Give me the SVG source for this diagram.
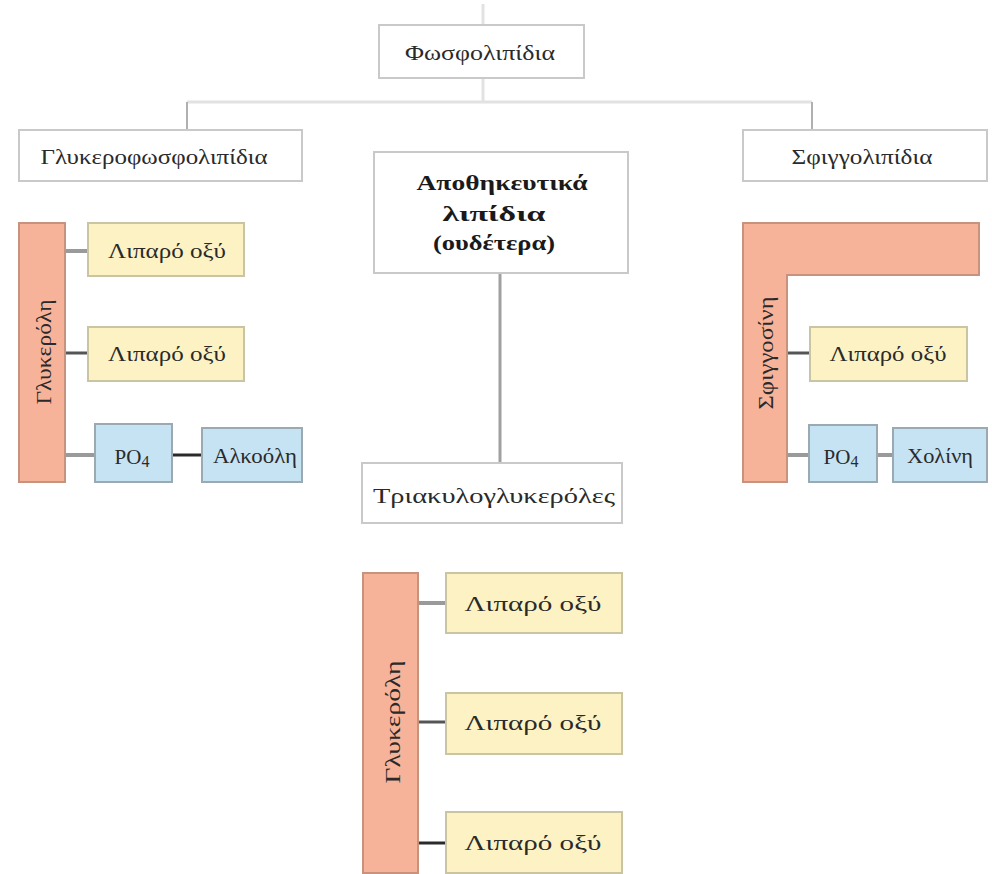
<svg xmlns="http://www.w3.org/2000/svg" width="992" height="874" viewBox="0 0 992 874">
<style>
text{font-family:"Liberation Serif","DejaVu Serif",serif;font-size:21px;fill:#2a2a2a;text-anchor:middle;dominant-baseline:central}
.b{font-weight:bold;font-size:21px;fill:#1a1a1a}
.w{fill:#fff;stroke:#c9c9c9;stroke-width:2}
.y{fill:#fcf2c4;stroke:#c9c4a2;stroke-width:2}
.u{fill:#c6e3f3;stroke:#9aa9b2;stroke-width:2}
.s{fill:#f7b39a;stroke:#c7937f;stroke-width:2}
.lt{stroke:#e2e2e2;stroke-width:3;fill:none}
.g{stroke:#9a9a9a;stroke-width:4;fill:none}
.d{stroke:#555;stroke-width:3;fill:none}
.k{stroke:#2a2a2a;stroke-width:3;fill:none}
</style>
<g id="connectors">
<line class="lt" x1="483" y1="4" x2="483" y2="25"/>
<line class="lt" x1="483" y1="78" x2="483" y2="102"/>
<line class="lt" x1="187" y1="102" x2="812" y2="102"/>
<line x1="187" y1="102" x2="187" y2="130" stroke="#b0b0b0" stroke-width="2"/>
<line x1="812" y1="102" x2="812" y2="130" stroke="#b0b0b0" stroke-width="2"/>
<line x1="500" y1="273" x2="500" y2="463" stroke="#a0a0a0" stroke-width="3"/>
<line class="g" x1="65" y1="251" x2="88" y2="251"/>
<line class="d" x1="65" y1="353" x2="88" y2="353"/>
<line class="g" x1="65" y1="455" x2="95" y2="455" stroke-width="6" stroke="#a8a8a8"/>
<line class="k" x1="172" y1="455" x2="202" y2="455"/>
<line class="d" x1="787" y1="353" x2="810" y2="353"/>
<line class="g" x1="787" y1="455" x2="809" y2="455" stroke-width="6" stroke="#a8a8a8"/>
<line class="g" x1="877" y1="455" x2="893" y2="455" stroke-width="6" stroke="#a8a8a8"/>
<line class="g" x1="418" y1="603" x2="446" y2="603"/>
<line class="d" x1="418" y1="722" x2="446" y2="722"/>
<line class="k" x1="418" y1="843" x2="446" y2="843"/>
</g>
<g id="fosfolipidia"><rect class="w" x="379" y="25" width="205" height="53"/><text x="480" y="53" textLength="150" lengthAdjust="spacingAndGlyphs">Φωσφολιπίδια</text></g>
<g id="glykerofosfolipidia"><rect class="w" x="19" y="130" width="283" height="51"/><text x="154" y="157" textLength="227" lengthAdjust="spacingAndGlyphs">Γλυκεροφωσφολιπίδια</text></g>
<g id="sfingolipidia"><rect class="w" x="743" y="130" width="244" height="51"/><text x="862" y="157" textLength="141" lengthAdjust="spacingAndGlyphs">Σφιγγολιπίδια</text></g>
<g id="apothikeftika"><rect class="w" x="374" y="152" width="254" height="121"/>
<text class="b" x="502" y="183" textLength="171" lengthAdjust="spacingAndGlyphs">Αποθηκευτικά</text><text class="b" x="494" y="214" textLength="103" lengthAdjust="spacingAndGlyphs">λιπίδια</text><text class="b" x="494" y="243" textLength="122" lengthAdjust="spacingAndGlyphs">(ουδέτερα)</text></g>
<g id="triakylo"><rect class="w" x="362" y="463" width="260" height="60"/><text x="494" y="496" textLength="242" lengthAdjust="spacingAndGlyphs">Τριακυλογλυκερόλες</text></g>

<g id="glykeroli-left"><rect class="s" x="19" y="223" width="46" height="259"/><text transform="translate(44,352) rotate(-90)" textLength="105" lengthAdjust="spacingAndGlyphs">Γλυκερόλη</text></g>
<g id="lipar-l1"><rect class="y" x="88" y="223" width="156" height="53"/><text x="167" y="251" textLength="118" lengthAdjust="spacingAndGlyphs">Λιπαρό οξύ</text></g>
<g id="lipar-l2"><rect class="y" x="88" y="327" width="156" height="54"/><text x="167" y="354" textLength="118" lengthAdjust="spacingAndGlyphs">Λιπαρό οξύ</text></g>
<g id="po4-left"><rect class="u" x="95" y="424" width="77" height="58"/><text x="132" y="457">PO<tspan font-size="16" dy="4">4</tspan></text></g>
<g id="alkooli"><rect class="u" x="202" y="428" width="100" height="54"/><text x="255" y="456" textLength="84" lengthAdjust="spacingAndGlyphs">Αλκοόλη</text></g>

<g id="sfingosini"><path class="s" d="M743 223H979V275H787V482H743Z"/><text transform="translate(766,353) rotate(-90)" textLength="113" lengthAdjust="spacingAndGlyphs">Σφιγγοσίνη</text></g>
<g id="lipar-r"><rect class="y" x="810" y="327" width="157" height="54"/><text x="888" y="354" textLength="117" lengthAdjust="spacingAndGlyphs">Λιπαρό οξύ</text></g>
<g id="po4-right"><rect class="u" x="809" y="425" width="68" height="57"/><text x="841" y="457">PO<tspan font-size="16" dy="4">4</tspan></text></g>
<g id="cholini"><rect class="u" x="893" y="428" width="94" height="54"/><text x="940" y="456" textLength="66" lengthAdjust="spacingAndGlyphs">Χολίνη</text></g>

<g id="glykeroli-bottom"><rect class="s" x="363" y="573" width="55" height="300"/><text transform="translate(393,722) rotate(-90)" textLength="123" lengthAdjust="spacingAndGlyphs">Γλυκερόλη</text></g>
<g id="lipar-b1"><rect class="y" x="446" y="573" width="176" height="60"/><text x="533" y="604" textLength="137" lengthAdjust="spacingAndGlyphs">Λιπαρό οξύ</text></g>
<g id="lipar-b2"><rect class="y" x="446" y="693" width="176" height="61"/><text x="533" y="723" textLength="137" lengthAdjust="spacingAndGlyphs">Λιπαρό οξύ</text></g>
<g id="lipar-b3"><rect class="y" x="446" y="812" width="176" height="61"/><text x="533" y="843" textLength="137" lengthAdjust="spacingAndGlyphs">Λιπαρό οξύ</text></g>
</svg>
